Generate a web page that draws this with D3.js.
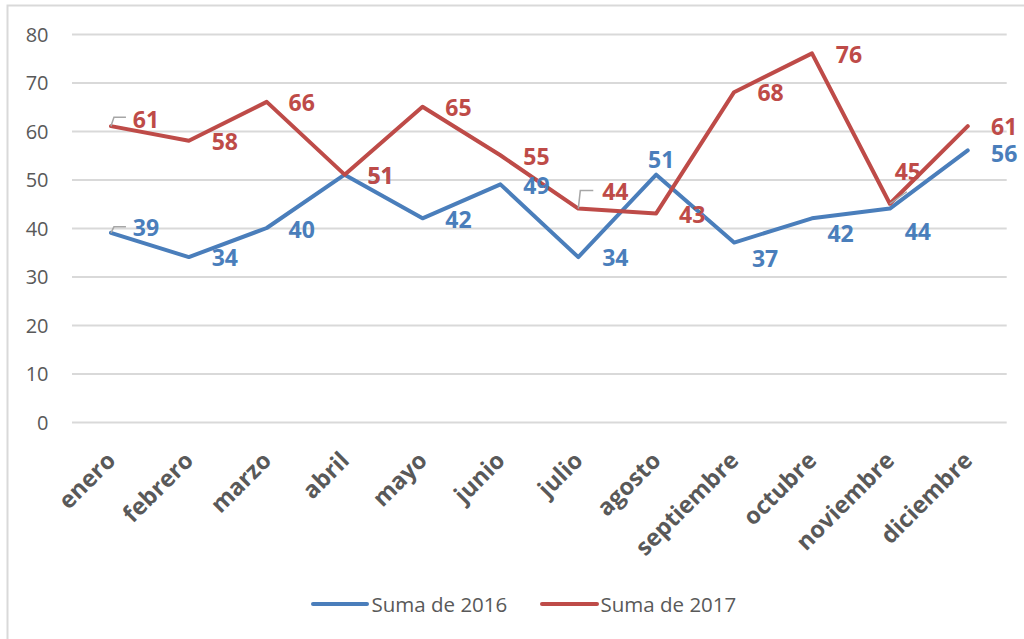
<!DOCTYPE html>
<html>
<head>
<meta charset="utf-8">
<script src="https://cdn.jsdelivr.net/npm/d3@7"></script>
<style>
  html, body { margin: 0; padding: 0; background: #fff; }
  svg { display: block; }
</style>
</head>
<body>
<svg id="chart" width="1024" height="639"></svg>
<script>
// ---- data ----
const months = ["enero","febrero","marzo","abril","mayo","junio","julio","agosto","septiembre","octubre","noviembre","diciembre"];
const values2016 = [39, 34, 40, 51, 42, 49, 34, 51, 37, 42, 44, 56];
const values2017 = [61, 58, 66, 51, 65, 55, 44, 43, 68, 76, 45, 61];
const seriesNames = ["Suma de 2016", "Suma de 2017"];
const yTicks = [0, 10, 20, 30, 40, 50, 60, 70, 80];

// ---- label placement (offsets from point, px) ----
const labelOffsets2016 = [[35,-5],[36,1],[35,2],[36,1.5],[36,1.7],[36,1],[37,1],[5,-15],[31,16],[28.6,15.4],[28,23],[36.5,3]];
const labelOffsets2017 = [[35,-6.6],[36,1],[35,1],[36,1.5],[36,1],[36,1],[37,-17],[36,1],[36.5,1],[37,1.6],[18,-32],[36.5,0.5]];
// leader lines: [seriesIndex, monthIndex, polyline offsets]
const leaders = [
  [0, 0, [[0,0],[3,-6],[15,-6]]],
  [1, 0, [[0,0],[3,-9],[15,-9]]],
  [1, 6, [[0,0],[2,-18],[15,-18]]],
  [1, 10, [[0,0],[17,-12]]]
];

const colors = ["#4a7ebb", "#be4b48"];
const textGray = "#595959";

const svg = d3.select("#chart");

// chart border
svg.append("rect")
  .attr("x", 7.5).attr("y", 5.5)
  .attr("width", 1100).attr("height", 700)
  .attr("fill", "#fff")
  .attr("stroke", "#d9d9d9").attr("stroke-width", 2);

const plotLeft = 72, plotRight = 1006.7, plotTop = 34, plotBottom = 422;

const x = d3.scaleBand().domain(months).range([plotLeft, plotRight]).padding(0);
const y = d3.scaleLinear().domain([0, 80]).range([plotBottom, plotTop]);
const cx = m => x(m) + x.bandwidth() / 2;

// y axis with gridlines
const yAxis = svg.append("g")
  .attr("transform", `translate(${plotLeft},0)`)
  .call(d3.axisLeft(y).tickValues(yTicks).tickSizeInner(-(plotRight - plotLeft)).tickSizeOuter(0).tickPadding(23.5));
yAxis.select(".domain").remove();
yAxis.selectAll(".tick line").attr("stroke", "#d9d9d9").attr("stroke-width", 2);
yAxis.selectAll(".tick text")
  .attr("fill", textGray)
  .style("font-family", "'Open Sans', sans-serif")
  .style("font-size", "20px")
  .attr("dy", "0.36em");

// x axis labels
const xAxis = svg.append("g")
  .attr("transform", `translate(0,${plotBottom})`)
  .call(d3.axisBottom(x).tickSize(0).tickPadding(0));
xAxis.select(".domain").remove();
xAxis.selectAll(".tick text")
  .attr("x", 0).attr("y", 0).attr("dy", 0)
  .attr("text-anchor", "end")
  .attr("transform", "translate(6,40) rotate(-45)")
  .attr("fill", textGray)
  .style("font-family", "'Open Sans', sans-serif")
  .style("font-size", "23.5px")
  .style("font-weight", "bold");

// lines
const allSeries = [values2016, values2017];
const line = d3.line()
  .x((d, i) => cx(months[i]))
  .y(d => y(d));

allSeries.forEach((vals, s) => {
  svg.append("path")
    .datum(vals)
    .attr("d", line)
    .attr("fill", "none")
    .attr("stroke", colors[s])
    .attr("stroke-width", 4)
    .attr("stroke-linejoin", "round")
    .attr("stroke-linecap", "round");
});

// leader lines
leaders.forEach(([s, i, pts]) => {
  const px = cx(months[i]), py = y(allSeries[s][i]);
  svg.append("polyline")
    .attr("points", pts.map(p => `${px + p[0]},${py + p[1]}`).join(" "))
    .attr("fill", "none")
    .attr("stroke", "#a6a6a6")
    .attr("stroke-width", 1.5);
});

// data labels
const offsets = [labelOffsets2016, labelOffsets2017];
allSeries.forEach((vals, s) => {
  svg.append("g").selectAll("text")
    .data(vals)
    .join("text")
    .attr("x", (d, i) => cx(months[i]) + offsets[s][i][0])
    .attr("y", (d, i) => y(d) + offsets[s][i][1])
    .attr("dy", "0.36em")
    .attr("text-anchor", "middle")
    .attr("fill", colors[s])
    .style("font-family", "'Open Sans', sans-serif")
    .style("font-size", "23px")
    .style("font-weight", "bold")
    .text(d => d);
});

// legend
const legendItems = [
  { name: seriesNames[0], color: colors[0], x1: 313, x2: 367, tx: 371.5 },
  { name: seriesNames[1], color: colors[1], x1: 542, x2: 597, tx: 600.5 }
];
const lg = svg.append("g");
legendItems.forEach(it => {
  lg.append("line")
    .attr("x1", it.x1).attr("x2", it.x2)
    .attr("y1", 604).attr("y2", 604)
    .attr("stroke", it.color).attr("stroke-width", 4)
    .attr("stroke-linecap", "round");
  lg.append("text")
    .attr("x", it.tx).attr("y", 604.5)
    .attr("dy", "0.36em")
    .attr("fill", textGray)
    .style("font-family", "'Open Sans', sans-serif")
    .style("font-size", "20.5px")
    .text(it.name);
});
</script>
</body>
</html>
